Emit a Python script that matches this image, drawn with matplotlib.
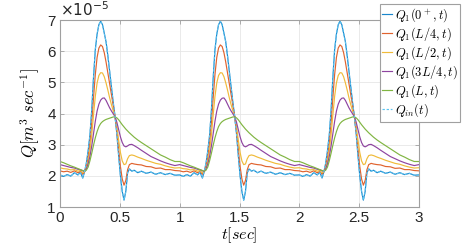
import numpy as np
import matplotlib
matplotlib.use("Agg")
import matplotlib.pyplot as plt

plt.rcParams['font.family'] = ['Liberation Sans', 'DejaVu Sans']
plt.rcParams['mathtext.fontset'] = 'cm'

# one period (1 s) of the periodic signals (units 1e-5 m^3/s)
t_period = [0.00, 0.03, 0.06, 0.09, 0.12, 0.15, 0.17, 0.19, 0.205, 0.22, 0.235, 0.25,
            0.265, 0.28, 0.295, 0.31, 0.325, 0.34, 0.355, 0.37, 0.385, 0.40, 0.415,
            0.43, 0.445, 0.46, 0.475, 0.49, 0.505, 0.52, 0.535, 0.55, 0.565, 0.58,
            0.60, 0.62, 0.65, 0.68, 0.72, 0.76, 0.80, 0.84, 0.88, 0.92, 0.96]
n_periods = 3

q_0 = [2.03, 1.98, 2.04, 1.99, 2.10, 2.03, 2.12, 1.93, 2.13, 2.40, 2.80, 3.30,
       4.10, 5.15, 6.05, 6.55, 6.85, 6.96, 6.85, 6.58, 6.30, 5.85, 5.35,
       4.85, 4.35, 3.90, 3.35, 2.65, 2.00, 1.50, 1.22, 1.50, 2.10, 2.22,
       2.15, 2.18, 2.10, 2.15, 2.08, 2.12, 2.05, 2.10, 2.04, 2.08, 2.02]
q_L4 = [2.16, 2.13, 2.15, 2.11, 2.16, 2.10, 2.14, 2.05, 2.13, 2.30, 2.60, 3.05,
        3.70, 4.50, 5.25, 5.80, 6.10, 6.20, 6.15, 5.95, 5.65, 5.30, 4.95,
        4.60, 4.25, 3.90, 3.45, 2.85, 2.30, 1.90, 1.70, 1.85, 2.20, 2.36,
        2.40, 2.38, 2.36, 2.35, 2.30, 2.29, 2.24, 2.25, 2.20, 2.20, 2.17]
q_L2 = [2.26, 2.23, 2.22, 2.19, 2.20, 2.15, 2.17, 2.10, 2.13, 2.25, 2.45, 2.80,
        3.30, 3.95, 4.55, 4.98, 5.22, 5.31, 5.30, 5.18, 4.98, 4.75, 4.50,
        4.28, 4.08, 3.90, 3.60, 3.15, 2.75, 2.48, 2.36, 2.38, 2.55, 2.65,
        2.67, 2.65, 2.60, 2.56, 2.50, 2.45, 2.40, 2.37, 2.32, 2.28, 2.25]
q_3L4 = [2.36, 2.33, 2.30, 2.27, 2.25, 2.21, 2.20, 2.16, 2.14, 2.22, 2.38, 2.62,
         2.95, 3.35, 3.75, 4.08, 4.30, 4.43, 4.49, 4.50, 4.42, 4.30, 4.18,
         4.08, 3.99, 3.90, 3.72, 3.48, 3.25, 3.07, 2.96, 2.93, 2.96, 3.00,
         3.01, 2.97, 2.90, 2.82, 2.72, 2.62, 2.55, 2.48, 2.42, 2.37, 2.33]
q_L = [2.46, 2.42, 2.37, 2.32, 2.28, 2.23, 2.20, 2.17, 2.15, 2.18, 2.28, 2.48,
       2.72, 2.98, 3.22, 3.42, 3.58, 3.68, 3.74, 3.78, 3.81, 3.83, 3.85,
       3.87, 3.89, 3.89, 3.86, 3.80, 3.72, 3.64, 3.57, 3.50, 3.44, 3.38,
       3.31, 3.24, 3.15, 3.07, 2.97, 2.87, 2.77, 2.67, 2.60, 2.52, 2.46]
q_in = list(q_0)

labels = [r'$Q_1(0^+,t)$', r'$Q_1(L/4,t)$', r'$Q_1(L/2,t)$',
          r'$Q_1(3L/4,t)$', r'$Q_1(L,t)$', r'$Q_{in}(t)$']
colors = ['#1a86cc', '#e0632e', '#f0bb3a', '#8e44a0', '#80b542', '#5cc4f0']
styles = ['-', '-', '-', '-', '-', (0, (2.0, 1.5))]

x_ticks = [0, 0.5, 1, 1.5, 2, 2.5, 3]
y_ticks = [1, 2, 3, 4, 5, 6, 7]


def periodic(vals):
    t = np.concatenate([np.array(t_period) + k for k in range(n_periods)] + [[n_periods]])
    v = np.concatenate([np.array(vals)] * n_periods + [[vals[0]]])
    return t, v


fig = plt.figure(figsize=(4.63, 2.45), dpi=100)
ax = fig.add_axes([60 / 463, 1 - 207 / 245, (419 - 60) / 463, (207 - 20) / 245])

series = [q_0, q_L4, q_L2, q_3L4, q_L, q_in]
for vals, c, ls, lab in zip(series, colors, styles, labels):
    t, v = periodic(vals)
    ax.plot(t, v, color=c, ls=ls, lw=0.85, label=lab)

ax.set_xlim(0, 3)
ax.set_ylim(1, 7)
ax.set_xticks(x_ticks)
ax.set_xticklabels([('%g' % x) for x in x_ticks])
ax.set_yticks(y_ticks)
ax.grid(True, color='#e6e6e6', lw=0.6)
ax.set_axisbelow(True)
for s in ax.spines.values():
    s.set_color('#a0a0a0')
    s.set_linewidth(0.8)
ax.tick_params(direction='in', length=3, width=0.6, colors='#a0a0a0',
               labelcolor='#262626', labelsize=11, top=True, right=True, pad=3)

ax.text(0.0, 1.005, r'$\times10^{-5}$', transform=ax.transAxes, ha='left', va='bottom',
        fontsize=11, color='#262626', math_fontfamily='dejavusans')

ax.set_xlabel(r'$t[sec]$', fontsize=11.5, labelpad=0)
ax.set_ylabel(r'$Q[m^3\ sec^{-1}]$', fontsize=12, labelpad=4)

leg = fig.legend(loc='upper right', bbox_to_anchor=(460 / 463, 1 - 4 / 245),
                 fontsize=9, handlelength=0.8, handletextpad=0.2, borderpad=0.2,
                 labelspacing=0.1, borderaxespad=0, fancybox=False, framealpha=1,
                 edgecolor='#a0a0a0')
leg.get_frame().set_linewidth(0.8)

fig.savefig('out.png', dpi=100)
